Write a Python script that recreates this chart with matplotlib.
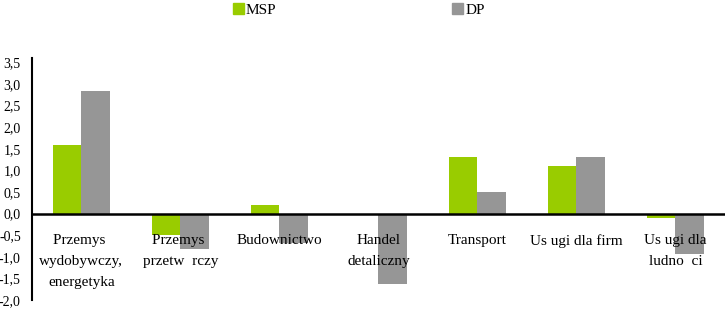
import numpy as np
import matplotlib
matplotlib.use("Agg")
import matplotlib.pyplot as plt
from matplotlib.patches import Patch

# etykiety kategorii (tak jak na oryginale, z brakującymi znakami)
categories = ["Przemys \nwydobywczy,\nenergetyka", "Przemys \nprzetw  rczy", "Budownictwo",
              "Handel\ndetaliczny", "Transport", "Us ugi dla firm", "Us ugi dla\nludno  ci"]
msp = [1.6, -0.5, 0.2, 0.0, 1.3, 1.1, -0.1]
dp = [2.83, -0.82, -0.68, -1.62, 0.5, 1.3, -0.93]
yticks = [-2.0, -1.5, -1.0, -0.5, 0.0, 0.5, 1.0, 1.5, 2.0, 2.5, 3.0, 3.5]

plt.rcParams["font.family"] = ["Liberation Serif", "DejaVu Serif"]
green = "#99CC00"
gray = "#969696"

fig = plt.figure(figsize=(7.25, 3.12), dpi=100)
ax = fig.add_axes([0.044, 0.038, 0.956, 0.776])

x = np.arange(len(categories))
w = 0.29
ax.bar(x - w / 2, msp, width=w, color=green, zorder=2)
ax.bar(x + w / 2, dp, width=w, color=gray, zorder=2)

ax.set_xlim(-0.5, len(categories) - 0.5)
ax.set_ylim(-2.0, 3.6)
ax.set_yticks(yticks)
ax.set_yticklabels([f"{v:.1f}".replace(".", ",") for v in yticks], fontsize=10)
ax.tick_params(axis="y", length=0, pad=8)
ax.set_xticks([])

for s in ["top", "right", "bottom"]:
    ax.spines[s].set_visible(False)
ax.spines["left"].set_linewidth(1.5)
ax.axhline(0, color="black", linewidth=1.8, zorder=3)

# etykiety kategorii pod osią zero
for i, lab in enumerate(categories):
    ax.text(i, -0.47, lab, ha="center", va="top", fontsize=11, linespacing=1.78, zorder=4)

handles = [Patch(color=green, label="MSP"), Patch(color=gray, label="DP")]
fig.legend(handles=handles, loc="upper center", bbox_to_anchor=(0.495, 1.035), ncol=2,
           frameon=False, fontsize=11, handlelength=0.7, handleheight=0.7,
           handletextpad=0.15, columnspacing=11.5)

fig.savefig("out.png", dpi=100)
